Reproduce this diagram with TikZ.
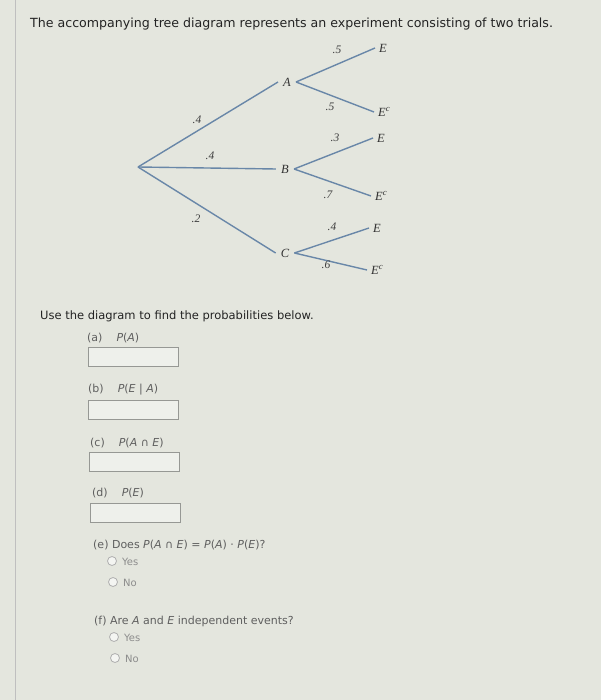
\documentclass[tikz,border=0pt]{standalone}
\usepackage{fontspec}
\setmainfont{DejaVu Sans}
\newfontfamily\treefont{Liberation Serif}
\definecolor{bg}{RGB}{228,230,222}
\definecolor{boxfill}{RGB}{238,240,235}
\definecolor{boxline}{RGB}{150,152,148}
\definecolor{branch}{RGB}{105,135,168}
\definecolor{maintext}{RGB}{35,35,35}
\definecolor{subtext}{RGB}{95,95,95}
\definecolor{lighttext}{RGB}{140,140,140}
\begin{document}
\begin{tikzpicture}[x=1pt,y=-1pt,
  txt/.style={anchor=west,inner sep=0pt,text=maintext},
  sub/.style={anchor=west,inner sep=0pt,text=subtext,font=\fontsize{11}{13}\selectfont},
  opt/.style={anchor=west,inner sep=0pt,text=lighttext,font=\fontsize{10}{12}\selectfont},
  ansbox/.style={draw=boxline,fill=boxfill,line width=0.9pt,minimum width=90pt,minimum height=19pt,inner sep=0pt,anchor=north west},
  radio/.style={circle,draw=lighttext!70,fill=white!60!bg,line width=0.8pt,minimum size=9pt,inner sep=0pt},
  mid/.style={font=\treefont\itshape\fontsize{12.5}{14}\selectfont,text=black!80,inner sep=5pt},
  leaf/.style={font=\treefont\itshape\fontsize{12.5}{14}\selectfont,text=black!80,inner sep=4pt,anchor=west},
  prob/.style={font=\treefont\itshape\fontsize{11.5}{13}\selectfont,text=black!75,inner sep=0pt},
  br/.style={draw=branch,line width=1.4pt}]
\useasboundingbox[fill=bg] (0,0) rectangle (601,700);
\draw[black!25,line width=0.8pt] (15,0) -- (15,700);

\node[txt,font=\fontsize{12.6}{15}\selectfont] (title) at (30,24) {The accompanying tree diagram represents an experiment consisting of two trials.};

% tree
\coordinate (root) at (138,167);
\node[mid] (A) at (287,82) {A};
\node[mid] (B) at (285,169) {B};
\node[mid] (C) at (285,253) {C};
\node[leaf] (AE) at (375,48) {E};
\node[leaf] (AEc) at (374,112) {E\textsuperscript{c}};
\node[leaf] (BE) at (373,138) {E};
\node[leaf] (BEc) at (371,196) {E\textsuperscript{c}};
\node[leaf] (CE) at (369,228) {E};
\node[leaf] (CEc) at (367,270) {E\textsuperscript{c}};
\draw[br] (root) -- (A.west);
\draw[br] (root) -- (B.west);
\draw[br] (root) -- (C.west);
\draw[br] (A.east) -- (AE.west);
\draw[br] (A.east) -- (AEc.west);
\draw[br] (B.east) -- (BE.west);
\draw[br] (B.east) -- (BEc.west);
\draw[br] (C.east) -- (CE.west);
\draw[br] (C.east) -- (CEc.west);
\node[prob] (pA) at (197,120) {.4};
\node[prob] (pB) at (210,156) {.4};
\node[prob] (pC) at (196,219) {.2};
\node[prob] (pAE) at (337,50) {.5};
\node[prob] (pAEc) at (330,107) {.5};
\node[prob] (pBE) at (335,138) {.3};
\node[prob] (pBEc) at (328,195) {.7};
\node[prob] (pCE) at (332,227) {.4};
\node[prob] (pCEc) at (326,265) {.6};

% questions
\node[txt,font=\fontsize{11.5}{14}\selectfont] (use) at (40,316) {Use the diagram to find the probabilities below.};
\node[sub] (qa) at (87,338) {(a)\hspace{14pt}\textit{P}(\textit{A})};
\node[ansbox] (ba) at (88,347) {};
\node[sub] (qb) at (88,390) {(b)\hspace{14pt}\textit{P}(\textit{E} | \textit{A})};
\node[ansbox] (bb) at (88,400) {};
\node[sub] (qc) at (90,443) {(c)\hspace{14pt}\textit{P}(\textit{A} ∩ \textit{E})};
\node[ansbox] (bc) at (89,452) {};
\node[sub] (qd) at (92,493) {(d)\hspace{14pt}\textit{P}(\textit{E})};
\node[ansbox] (bd) at (90,503) {};

\node[sub] (qe) at (93,545) {(e) Does \textit{P}(\textit{A} ∩ \textit{E}) = \textit{P}(\textit{A}) · \textit{P}(\textit{E})?};
\node[radio] (re1) at (112,561) {};
\node[opt] (ye1) at (122,562) {Yes};
\node[radio] (re2) at (113,582) {};
\node[opt] (no1) at (123,583) {No};

\node[sub] (qf) at (94,621) {(f) Are \textit{A} and \textit{E} independent events?};
\node[radio] (rf1) at (114,637) {};
\node[opt] (ye2) at (124,638) {Yes};
\node[radio] (rf2) at (115,658) {};
\node[opt] (no2) at (125,659) {No};
\end{tikzpicture}
\end{document}
